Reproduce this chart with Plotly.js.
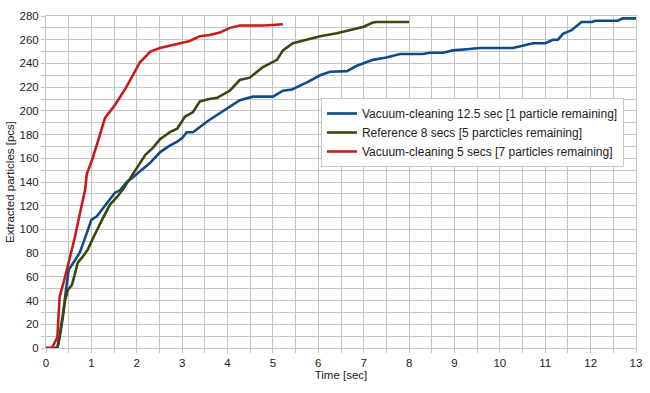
<!DOCTYPE html>
<html><head><meta charset="utf-8">
<script src="https://cdn.plot.ly/plotly-3.0.1.min.js"></script>
<style>html,body{margin:0;padding:0;background:#fff}#chart{width:650px;height:393px}</style>
</head><body><div id="chart"></div>
<script>
const seriesNames = [
  "Vacuum-cleaning 12.5 sec [1 particle remaining]",
  "Reference 8 secs [5 parcticles remaining]",
  "Vacuum-cleaning 5 secs [7 particles remaining]"
];
const blueT = [0,0.25,0.3,0.37,0.44,0.5,0.64,0.75,0.88,1.0,1.12,1.25,1.4,1.52,1.63,1.78,1.92,2.1,2.29,2.51,2.7,2.89,3.0,3.1,3.24,3.55,3.75,3.99,4.27,4.56,5.0,5.22,5.42,5.75,6.04,6.26,6.63,6.85,7.2,7.5,7.8,8.3,8.46,8.75,8.96,9.27,9.56,10.29,10.5,10.73,11.0,11.17,11.28,11.39,11.58,11.8,12.03,12.1,12.6,12.71,13.0];
const blueV = [0,0,9,26,49,66,74,81,95,108,111,118,125,131,133,140,144,150,156,165,170,174,177,182,182,191,196,202,209,212,212,217,218,224,230,233,233.5,238,243,245,248,248,249,249,251,252,253,253,255,257,257,260,260,265,268,275,275,276,276,278,278];
const greenT = [0,0.25,0.3,0.42,0.48,0.57,0.64,0.7,0.81,0.92,1.04,1.15,1.26,1.41,1.58,1.7,1.92,2.07,2.19,2.36,2.51,2.58,2.73,2.89,3.06,3.24,3.39,3.6,3.77,4.05,4.27,4.49,4.78,5.09,5.22,5.44,5.75,6.04,6.41,6.76,7.0,7.2,7.29,8.0];
const greenV = [0,0,10,40,49,53,63,72,77,83,93,102,110,121,128,134,147,157,163,169,176,178,182,185,195,199,208,210,211,217,226,228,237,243,251,257,260,263,265.5,269,271,274.5,275,275];
const redT = [0,0.13,0.25,0.3,0.42,0.53,0.64,0.75,0.86,0.9,1.01,1.15,1.3,1.52,1.77,2.07,2.22,2.3,2.51,2.95,3.17,3.39,3.6,3.83,4.05,4.27,4.8,5.22];
const redV = [0,0,9,43,60,77,94,114,133,147,158,175,194,205,220,241,247,250,253,257,259,263,264,266,270,272,272,273];
const colors = ["#0f4a8a","#3a4712","#c81b1e"];
const xs = [blueT, greenT, redT], ys = [blueV, greenV, redV];
const data = xs.map((x,i)=>({x:x,y:ys[i],type:"scatter",mode:"lines",name:seriesNames[i],
  line:{color:colors[i],width:2.6}}));
const grid = "#c4c4c4";
const layout = {
  width:650,height:393,margin:{l:46,r:14,t:16,b:45},
  paper_bgcolor:"#fff",plot_bgcolor:"#fff",
  font:{family:"Liberation Sans, Arial, sans-serif",size:11.5,color:"#222"},
  showlegend:true,
  legend:{x:0.466,y:0.753,xanchor:"left",yanchor:"top",bgcolor:"#fff",bordercolor:"#c8c8c8",borderwidth:1,
    font:{size:12,color:"#222"},tracegroupgap:0,itemwidth:30},
  xaxis:{range:[0,13],dtick:1,tick0:0,showgrid:true,gridcolor:grid,gridwidth:1,zeroline:false,
    ticks:"outside",ticklen:4,tickcolor:grid,showline:true,linecolor:grid,mirror:true,
    minor:{dtick:0.5,showgrid:true,gridcolor:grid,ticks:"outside",ticklen:4,tickcolor:grid},
    title:{text:"Time [sec]",font:{size:11.5},standoff:2}},
  yaxis:{range:[0,280],dtick:20,tick0:0,showgrid:true,gridcolor:grid,gridwidth:1,zeroline:false,
    ticks:"outside",ticklen:4,tickcolor:grid,showline:true,linecolor:grid,mirror:true,
    minor:{dtick:10,showgrid:true,gridcolor:grid,ticks:"outside",ticklen:4,tickcolor:grid},
    title:{text:"Extracted particles [pcs]",font:{size:11.5},standoff:2}}
};
Plotly.newPlot("chart",data,layout,{staticPlot:true,displayModeBar:false});
</script></body></html>
